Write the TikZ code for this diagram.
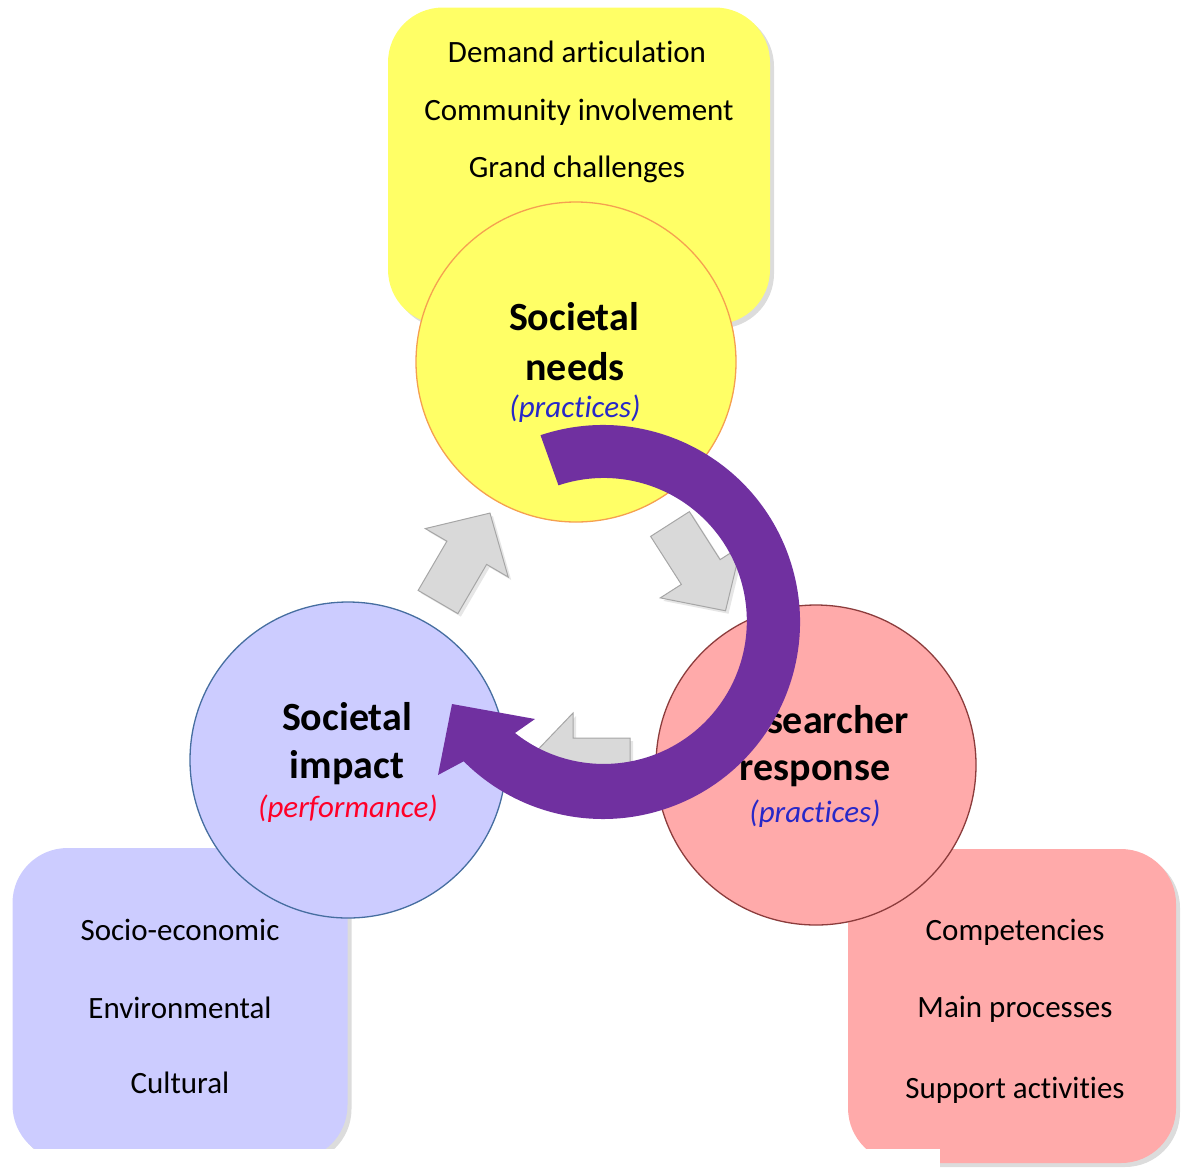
\documentclass[tikz,border=0pt]{standalone}
\usepackage{fontspec}
\setmainfont{Carlito}[Ligatures=NoCommon]
\usetikzlibrary{shadows}

\definecolor{needsfill}{RGB}{255,255,102}
\definecolor{needsline}{RGB}{245,160,80}
\definecolor{impactfill}{RGB}{204,204,255}
\definecolor{impactline}{RGB}{70,110,160}
\definecolor{respfill}{RGB}{255,170,170}
\definecolor{respline}{RGB}{140,60,60}
\definecolor{loopviolet}{RGB}{112,48,160}
\definecolor{notablue}{RGB}{40,40,200}
\definecolor{notared}{RGB}{255,0,40}

\begin{document}
\begin{tikzpicture}[x=1pt, y=1pt,
  infobox/.style={rounded corners=55pt, inner sep=0pt,
    drop shadow={shadow xshift=4pt, shadow yshift=-4pt, opacity=0.28}},
  phase/.style={circle, minimum size=320pt, inner sep=0pt, line width=1.3pt},
  grayarrow/.style={fill=black!15, draw=black!35, line width=1pt,
    drop shadow={shadow xshift=3pt, shadow yshift=-3pt, opacity=0.2}},
  itemtext/.style={font=\fontsize{31}{36}\selectfont, anchor=base},
  titletext/.style={font=\bfseries\fontsize{40}{48}\selectfont, anchor=base},
  notetext/.style={font=\itshape\fontsize{31}{36}\selectfont, anchor=base}]
  \useasboundingbox (0,0) rectangle (1182,-1168);

  % boxes behind the circles
  \node[infobox, fill=needsfill, minimum width=382pt, minimum height=317pt] (needsbox) at (579,-166) {};
  \node[infobox, fill=impactfill, minimum width=335pt, minimum height=312pt] (impactbox) at (180,-1004) {};
  \node[infobox, fill=respfill, minimum width=328pt, minimum height=314pt] (respbox) at (1012,-1006) {};
  \fill[white] (0,-1149) rectangle (940,-1168);

  % the three phases
  \node[phase, fill=needsfill, draw=needsline] (needs) at (576,-362) {};
  \node[phase, fill=impactfill, draw=impactline, minimum size=316pt] (impact) at (348,-760) {};
  \node[phase, fill=respfill, draw=respline] (resp) at (816,-765) {};

  % gray cycle arrows
  \draw[grayarrow, shift={(438,-602)}, rotate=59.7]
    (0,-23) -- (57,-23) -- (57,-48) -- (103,0) -- (57,48) -- (57,23) -- (0,23) -- cycle;
  \draw[grayarrow, shift={(670,-524)}, rotate=-57.4]
    (0,-23) -- (57,-23) -- (57,-48) -- (103,0) -- (57,48) -- (57,23) -- (0,23) -- cycle;
  \draw[grayarrow, shift={(630,-761)}, rotate=180]
    (0,-23) -- (57,-23) -- (57,-48) -- (103,0) -- (57,48) -- (57,23) -- (0,23) -- cycle;

  % texts in the boxes
  \draw (577,-62) node[itemtext] (dem) {Demand articulation};
  \draw (579,-120) node[itemtext] (com) {Community involvement};
  \draw (577,-177) node[itemtext] (grc) {Grand challenges};
  \draw (180,-940) node[itemtext] (soc) {Socio-economic};
  \draw (180,-1018) node[itemtext] (env) {Environmental};
  \draw (180,-1093) node[itemtext] (cul) {Cultural};
  \draw (1015,-940) node[itemtext] (cmp) {Competencies};
  \draw (1015,-1017) node[itemtext] (mpr) {Main processes};
  \draw (1015,-1098) node[itemtext] (sup) {Support activities};

  % texts in the circles
  \draw (574,-330) node[titletext] (needs1) {Societal};
  \draw (575,-380) node[titletext] (needs2) {needs};
  \draw (575,-417) node[notetext, text=notablue] (needs3) {(practices)};
  \draw (347,-730) node[titletext] (impact1) {Societal};
  \draw (347,-778) node[titletext] (impact2) {impact};
  \draw (348,-817) node[notetext, text=notared] (impact3) {(performance)};
  \draw (817,-733) node[titletext] (resp1) {Researcher};
  \draw (815,-780) node[titletext] (resp2) {response};
  \draw (815,-822) node[notetext, text=notablue] (resp3) {(practices)};

  % the big loop arrow
  \fill[loopviolet] ([shift={(108.5:197)}]603,-622)
    arc[start angle=108.5, end angle=-135, radius=197]
    -- (438,-775) -- (452,-704) -- (535,-719) -- (515,-733)
    arc[start angle=-128.4, end angle=108.5, radius=143] -- cycle;
\end{tikzpicture}
\end{document}
